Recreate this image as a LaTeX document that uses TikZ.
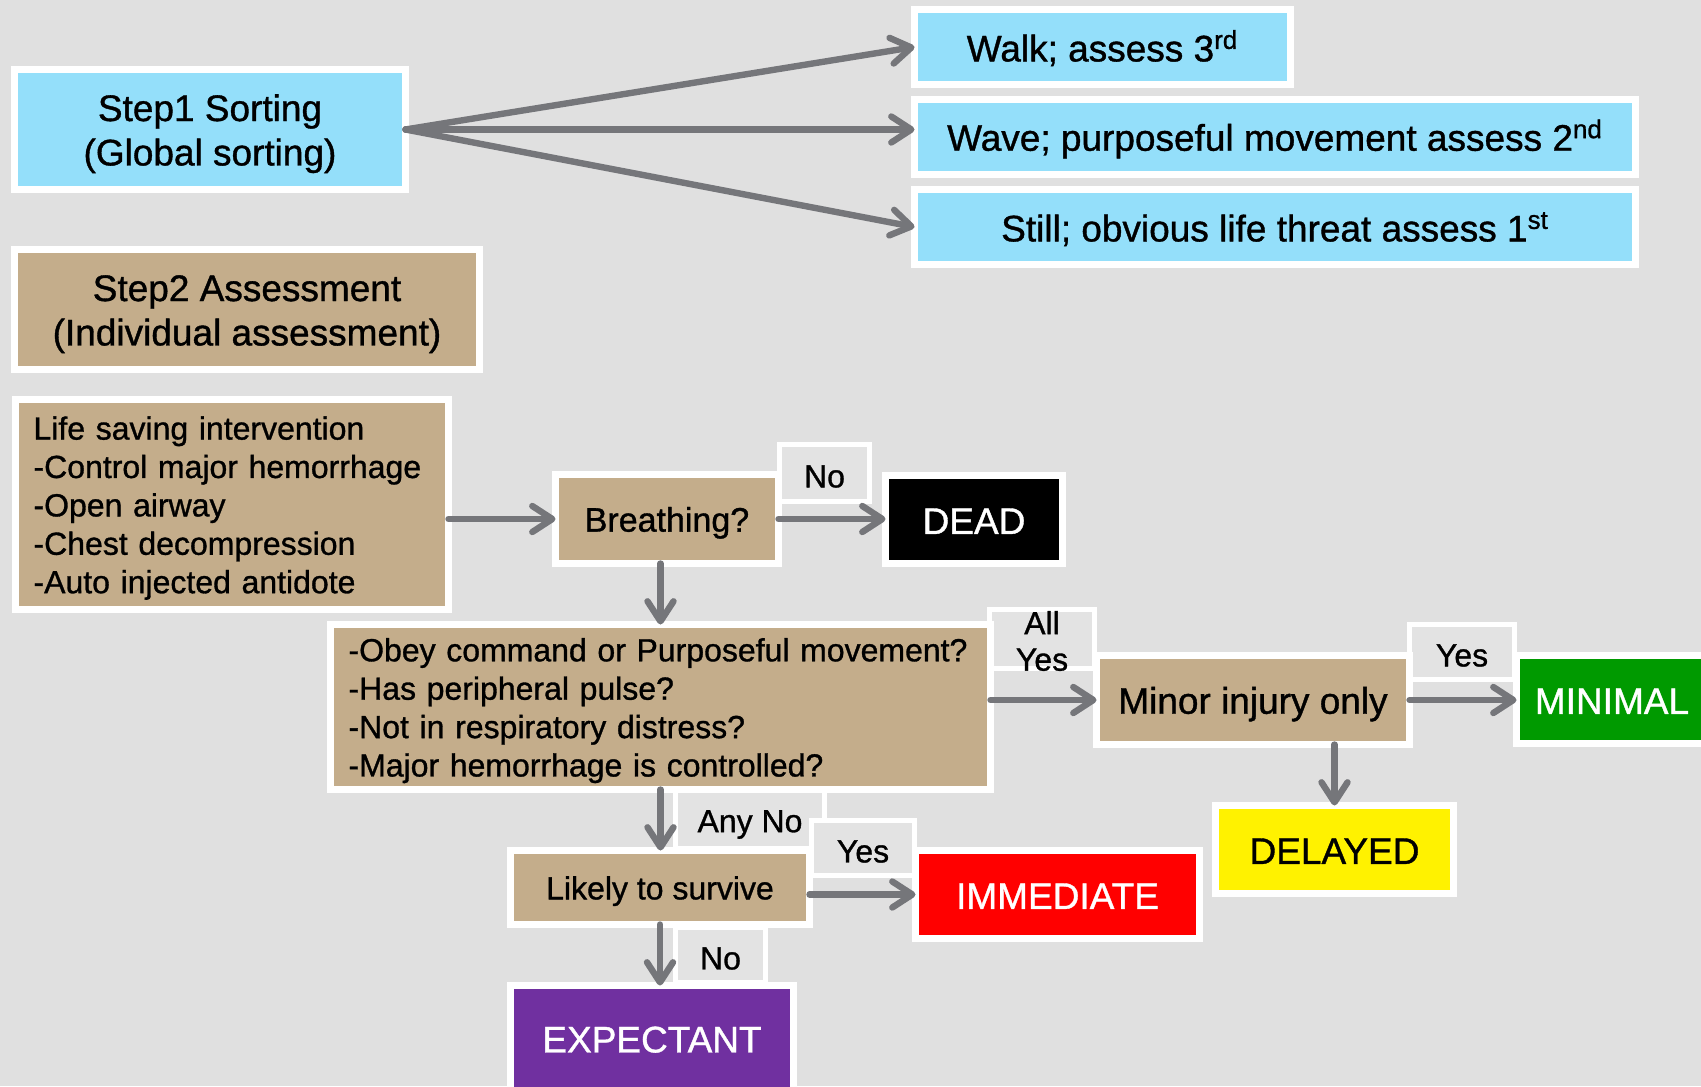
\documentclass[tikz,border=0pt]{standalone}
\usepackage{fontspec}
\setmainfont{Liberation Sans}[UprightFeatures={FakeBold=1}]
\usetikzlibrary{arrows.meta}

\definecolor{bg}{HTML}{E0E0E0}
\definecolor{lblgray}{HTML}{E3E3E3}
\definecolor{sky}{HTML}{94DFFA}
\definecolor{tan}{HTML}{C4AD8B}
\definecolor{okgreen}{HTML}{009A00}
\definecolor{purp}{HTML}{7030A0}
\definecolor{arrowgray}{HTML}{75767A}

\newcommand\bigtxt{\fontsize{18.5pt}{22.2pt}\selectfont}
\newcommand\midtxt{\fontsize{17pt}{20pt}\selectfont}
\newcommand\listtxt{\fontsize{16pt}{19.2pt}\selectfont}
% struts that give every text block the same top and bottom, line by line
\newcommand\topstrut{\rule{0pt}{0.95em}}
\newcommand\botstrut{\rule[-0.17em]{0pt}{0.17em}}
\newcommand\lbltop{\rule{0pt}{1em}}
\newcommand\lblbot{\rule[-0.1em]{0pt}{0.1em}}

\tikzset{
  box/.style={draw=white, line width=3.5pt, outer sep=0pt, inner sep=0pt,
              align=center, font=\bigtxt},
  listbox/.style={box, fill=tan, font=\listtxt, align=left, inner xsep=9pt},
  lbl/.style={draw=white, line width=2.5pt, fill=lblgray, outer sep=0pt,
              inner sep=0pt, font=\listtxt},
  lbltext/.style={font=\listtxt, align=center, inner sep=0pt},
  flow/.style={draw=arrowgray, line width=3.2pt, line cap=round,
               -{Straight Barb[length=10pt,width=13pt,line cap=round,line join=round]}},
}

\begin{document}
\begin{tikzpicture}[x=0.5pt,y=-0.5pt]
\useasboundingbox (0,0) rectangle (1701,1086);
\clip (0,0) rectangle (1701,1086);
\fill[bg] (0,0) rectangle (1701,1086);

% decision labels (behind the boxes)
\node[lbl, minimum width=45pt,   minimum height=28.5pt] (lno1)    at (824.5,473) {\lbltop No\lblbot};
\node[lbl, minimum width=52.5pt, minimum height=29.5pt] (lallyes) at (1042,639) {};
\node[lbl, minimum width=52.5pt, minimum height=27.5pt] (lyes1)   at (1462,652) {\lbltop Yes\lblbot};
\node[lbl, minimum width=74.5pt, minimum height=29pt]   (lanyno)  at (750,819.5) {\lbltop Any No\lblbot};
\node[lbl, minimum width=51.5pt, minimum height=27.5pt] (lyes2)   at (863,848) {\lbltop Yes\lblbot};
\node[lbl, minimum width=45pt,   minimum height=27.5pt] (lno2)    at (720.5,955) {\lbltop No\lblbot};
\node[lbltext] (tallyes) at (1042,641) {All\\[-1pt]Yes};

% step 1: global sorting
\node[box, fill=sky, minimum width=195.5pt, minimum height=60pt] (s1) at (210,129.5)
  {\topstrut Step1 Sorting\\(Global sorting)\botstrut};
\node[box, fill=sky, minimum width=188pt, minimum height=37.5pt] (walk) at (1102.5,47)
  {\topstrut Walk; assess 3\textsuperscript{rd}\botstrut};
\node[box, fill=sky, minimum width=360.5pt, minimum height=37.5pt] (wave) at (1275,137)
  {\topstrut Wave; purposeful movement assess 2\textsuperscript{nd}\botstrut};
\node[box, fill=sky, minimum width=360.5pt, minimum height=37.5pt] (still) at (1275,227)
  {\topstrut Still; obvious life threat assess 1\textsuperscript{st}\botstrut};

% step 2: individual assessment
\node[box, fill=tan, minimum width=232.5pt, minimum height=60pt] (s2) at (247,309.5)
  {\topstrut Step2 Assessment\\(Individual assessment)\botstrut};
\node[listbox, text width=198.5pt, minimum height=105pt] (life) at (232,504.5)
  {\topstrut Life saving intervention\\-Control major hemorrhage\\-Open airway\\-Chest decompression\\-Auto injected antidote\botstrut};
\node[box, fill=tan, font=\midtxt, minimum width=111.5pt, minimum height=44.5pt] (breath) at (667,519)
  {\topstrut Breathing?\botstrut};
\node[box, fill=black, text=white, minimum width=88.5pt, minimum height=44pt] (dead) at (974,519.5)
  {\topstrut DEAD\botstrut};
\node[listbox, text width=312pt, minimum height=82.5pt] (quest) at (660.5,707)
  {\topstrut -Obey command or Purposeful movement?\\-Has peripheral pulse?\\-Not in respiratory distress?\\-Major hemorrhage is controlled?\botstrut};
\node[box, fill=tan, minimum width=156.5pt, minimum height=44.5pt] (minor) at (1253,700)
  {\topstrut Minor injury only\botstrut};
\node[box, fill=okgreen, text=white, minimum width=95.5pt, minimum height=44pt] (minimal) at (1612,699.5)
  {\topstrut MINIMAL\botstrut};
\node[box, fill=yellow, minimum width=119pt, minimum height=44pt] (delayed) at (1334.5,849.5)
  {\topstrut DELAYED\botstrut};
\node[box, fill=tan, font=\listtxt, minimum width=149.5pt, minimum height=37pt] (likely) at (660,887.5)
  {\topstrut Likely to survive\botstrut};
\node[box, fill=red, text=white, minimum width=142pt, minimum height=44pt] (immed) at (1057.5,894.5)
  {\topstrut IMMEDIATE\botstrut};
\node[box, fill=purp, text=white, minimum width=141.5pt, minimum height=52.5pt] (expect) at (652,1038)
  {\topstrut EXPECTANT\botstrut};

% connectors
\draw[flow] (s1.east) -- (walk.west);
\draw[flow] (s1.east) -- (s1.east -| wave.west);
\draw[flow] (s1.east) -- (still.west);
\draw[flow] (breath.west -| life.east) -- (breath.west);
\draw[flow] (breath.east) -- (breath.east -| dead.west);
\draw[flow] (quest.north |- breath.south) -- (quest.north);
\draw[flow] (quest.east |- minor.west) -- (minor.west);
\draw[flow] (minor.east) -- (minor.east -| minimal.west);
\draw[flow] (delayed.north |- minor.south) -- (delayed.north);
\draw[flow] (quest.south) -- (quest.south |- likely.north);
\draw[flow] (likely.east |- immed.west) -- (immed.west);
\draw[flow] (likely.south) -- (likely.south |- expect.north);
\end{tikzpicture}
\end{document}
